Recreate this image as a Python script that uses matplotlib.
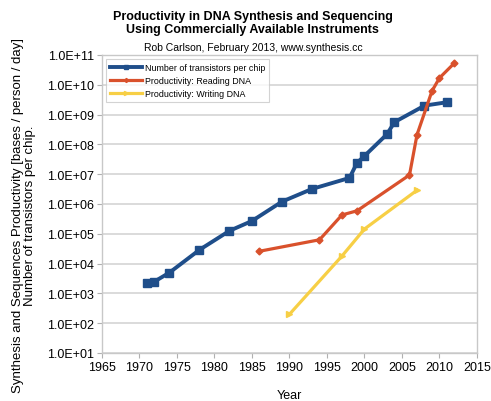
import math

import matplotlib.pyplot as plt
from matplotlib.ticker import FixedLocator, FuncFormatter

plt.rcParams["font.family"] = ["Liberation Sans", "DejaVu Sans"]

# transistors per chip
chip_years = [1971, 1972, 1974, 1978, 1982, 1985, 1989, 1993, 1998, 1999, 2000, 2003, 2004, 2008, 2011]
chip_values = [2300, 2500, 5000, 29000, 126000, 270000, 1.2e6, 3.2e6, 7.5e6, 2.4e7, 4.1e7, 2.2e8, 5.6e8, 2.0e9, 2.6e9]

# reading DNA
read_years = [1986, 1994, 1997, 1999, 2006, 2007, 2009, 2010, 2012]
read_values = [26000, 63000, 4.3e5, 5.9e5, 9.4e6, 2.1e8, 6.2e9, 1.7e10, 5.4e10]

# writing DNA
write_years = [1990, 1997, 2000, 2007]
write_values = [200, 18000, 1.45e5, 2.9e6]

BLUE = "#1f4e8a"
RED = "#d9512c"
YELLOW = "#f7cf45"
GRID = "#d4d4d4"

fig = plt.figure(figsize=(4.91, 4.02), dpi=100)
ax = fig.add_axes([102 / 491, 48 / 402, 375 / 491, 298 / 402])

ax.plot(chip_years, chip_values, color=BLUE, lw=2.8, marker="s", ms=6,
        label="Number of transistors per chip", zorder=3)
ax.plot(read_years, read_values, color=RED, lw=2.3, marker="D", ms=3.5,
        label="Productivity: Reading DNA", zorder=4)
ax.plot(write_years, write_values, color=YELLOW, lw=2.3, marker=">", ms=5,
        label="Productivity: Writing DNA", zorder=2)

ax.set_yscale("log")
ax.set_ylim(10, 1e11)
ax.set_xlim(1965, 2015)
ax.xaxis.set_major_locator(FixedLocator(range(1965, 2016, 5)))
ax.yaxis.set_major_locator(FixedLocator([10.0 ** k for k in range(1, 12)]))
ax.yaxis.set_minor_locator(FixedLocator([]))
ax.yaxis.set_major_formatter(FuncFormatter(lambda v, p: "1.0E+%02d" % round(math.log10(v))))

ax.grid(axis="y", color=GRID, lw=1.2)
ax.set_axisbelow(True)
for s in ax.spines.values():
    s.set_color("#c8c8c8")
    s.set_linewidth(1.0)
ax.tick_params(axis="both", colors="#b0b0b0", labelcolor="black", labelsize=9, length=3.5, pad=2)

ax.set_xlabel("Year", fontsize=9, labelpad=12)
ax.set_ylabel("Synthesis and Sequences Productivity [bases / person / day]\nNumber of transistors per chip.",
              fontsize=9.5, linespacing=1.05)
ax.yaxis.set_label_coords(-0.175, 0.465)

fig.text(0.515, 0.972, "Productivity in DNA Synthesis and Sequencing\nUsing Commercially Available Instruments",
         ha="center", va="top", fontsize=9, fontweight="bold", linespacing=1.05)
fig.text(0.515, 0.892, "Rob Carlson, February 2013, www.synthesis.cc",
         ha="center", va="top", fontsize=7.5)

leg = ax.legend(loc="upper left", bbox_to_anchor=(0.0, 1.0), fontsize=6.4, frameon=True,
                fancybox=False, edgecolor="#c8c8c8", borderpad=0.45, handlelength=3.6,
                handletextpad=0.3, labelspacing=0.45, markerscale=0.6)
leg.get_frame().set_linewidth(0.8)

fig.savefig("out.png", dpi=100)
